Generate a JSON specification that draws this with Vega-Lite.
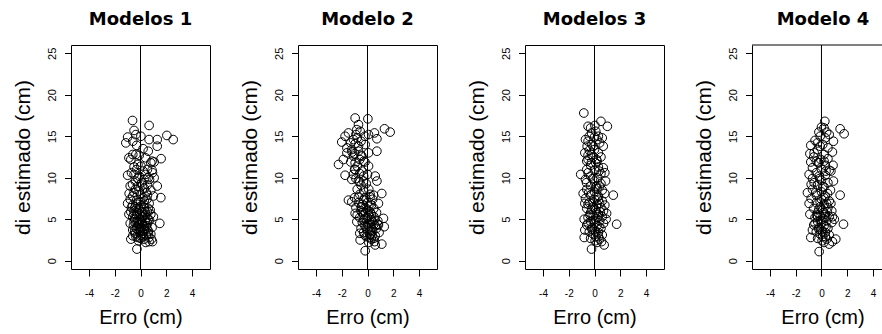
{
"$schema": "https://vega.github.io/schema/vega-lite/v6.json",
"background": "white",
"padding": {"left": 11, "top": 10, "right": 0, "bottom": 0},
"autosize": {"type": "pad"},
"bounds": "flush",
"spacing": 88,
"datasets": {
"m1": [
{"erro":-0.62,"di":16.9},{"erro":0.67,"di":16.3},{"erro":-0.5,"di":15.7},{"erro":-0.36,"di":15.2},{"erro":-1.0,"di":14.9},{"erro":0.03,"di":15.0},{"erro":2.05,"di":15.1},{"erro":2.54,"di":14.6},{"erro":0.67,"di":14.6},{"erro":1.3,"di":14.6},{"erro":-1.14,"di":14.2},{"erro":-0.6,"di":14.4},{"erro":1.3,"di":13.8},{"erro":0.6,"di":13.2},{"erro":-0.6,"di":12.8},{"erro":-0.36,"di":12.8},{"erro":-0.75,"di":12.2},{"erro":1.6,"di":12.3},{"erro":0.8,"di":11.8},{"erro":1.06,"di":11.9},{"erro":-0.2,"di":11.6},{"erro":0.03,"di":11.4},{"erro":0.54,"di":11.0},{"erro":0.93,"di":10.6},{"erro":-1.0,"di":10.3},{"erro":-0.5,"di":10.4},{"erro":1.06,"di":10.0},{"erro":0.28,"di":9.8},{"erro":-0.62,"di":9.2},{"erro":-0.23,"di":8.95},{"erro":0.54,"di":9.15},{"erro":1.3,"di":9.0},{"erro":-0.88,"di":8.1},{"erro":-0.5,"di":8.2},{"erro":0.54,"di":7.9},{"erro":1.58,"di":7.6},{"erro":-1.0,"di":6.9},{"erro":-0.62,"di":6.7},{"erro":0.0,"di":7.1},{"erro":0.67,"di":6.9},{"erro":-0.75,"di":5.9},{"erro":-0.23,"di":5.7},{"erro":0.54,"di":5.9},{"erro":1.5,"di":4.5},{"erro":-0.5,"di":4.7},{"erro":0.0,"di":4.9},{"erro":-0.6,"di":3.7},{"erro":-0.75,"di":2.6},{"erro":-0.28,"di":1.4},{"erro":0.41,"di":2.2},{"erro":0.67,"di":2.3},{"erro":0.93,"di":2.3},{"erro":0.0,"di":2.7},
{"erro":-0.3,"di":11.0},{"erro":0.2,"di":10.8},{"erro":-0.1,"di":10.2},{"erro":0.4,"di":10.4},{"erro":-0.4,"di":9.6},{"erro":0.1,"di":9.4},{"erro":0.7,"di":9.8},{"erro":-0.8,"di":9.0},{"erro":0.3,"di":8.7},{"erro":-0.1,"di":8.4},{"erro":0.8,"di":8.5},{"erro":-0.6,"di":7.8},{"erro":0.2,"di":7.6},{"erro":-0.3,"di":7.3},{"erro":0.5,"di":7.4},{"erro":-0.8,"di":7.4},{"erro":1.0,"di":7.8},{"erro":0.9,"di":10.9},{"erro":-0.5,"di":11.3},{"erro":0.4,"di":12.4},{"erro":-0.1,"di":12.7},{"erro":0.2,"di":13.5},{"erro":-0.3,"di":13.9},{"erro":0.9,"di":12.0},{"erro":-0.9,"di":12.4},{"erro":0.6,"di":10.0},{"erro":-0.7,"di":10.6},
{"erro":-0.4,"di":6.5},{"erro":0.3,"di":6.4},{"erro":-0.1,"di":6.2},{"erro":0.6,"di":6.3},{"erro":-0.5,"di":6.0},{"erro":0.1,"di":5.9},{"erro":0.8,"di":5.6},{"erro":-0.3,"di":5.5},{"erro":0.2,"di":5.3},{"erro":0.5,"di":5.2},{"erro":-0.6,"di":5.3},{"erro":-0.1,"di":5.0},{"erro":0.35,"di":4.8},{"erro":0.7,"di":4.9},{"erro":-0.35,"di":4.6},{"erro":0.15,"di":4.5},{"erro":-0.15,"di":4.3},{"erro":0.45,"di":4.2},{"erro":-0.55,"di":4.2},{"erro":0.05,"di":4.0},{"erro":0.3,"di":3.8},{"erro":-0.3,"di":3.9},{"erro":0.6,"di":3.6},{"erro":-0.1,"di":3.5},{"erro":0.2,"di":3.3},{"erro":-0.4,"di":3.3},{"erro":0.45,"di":3.1},{"erro":0.0,"di":3.0},{"erro":-0.2,"di":2.8},{"erro":0.3,"di":2.6},{"erro":0.9,"di":4.0},{"erro":0.8,"di":3.2},{"erro":-0.8,"di":4.5},{"erro":-0.9,"di":5.6},{"erro":1.0,"di":5.3},{"erro":0.25,"di":6.8},{"erro":-0.2,"di":7.0},{"erro":0.1,"di":4.7},{"erro":-0.05,"di":5.6},{"erro":0.4,"di":5.6},{"erro":-0.45,"di":5.0},{"erro":0.55,"di":4.5},{"erro":0.0,"di":3.7},{"erro":-0.25,"di":4.1},{"erro":0.15,"di":3.6},{"erro":-0.6,"di":3.0},{"erro":0.65,"di":2.8},
{"erro":-0.2,"di":4.8},{"erro":0.25,"di":4.1},{"erro":-0.45,"di":3.6},{"erro":0.5,"di":3.9},{"erro":0.1,"di":3.1},{"erro":-0.15,"di":2.4},{"erro":0.35,"di":5.9},{"erro":-0.3,"di":6.3},{"erro":0.75,"di":6.1},{"erro":-0.7,"di":6.4},{"erro":0.05,"di":6.6},{"erro":0.2,"di":2.9},{"erro":-0.05,"di":4.4},{"erro":0.6,"di":5.0},{"erro":-0.5,"di":5.6},{"erro":0.3,"di":7.2},{"erro":-0.4,"di":8.6},{"erro":0.15,"di":9.1},{"erro":0.45,"di":8.2},{"erro":-0.2,"di":9.9},{"erro":0.0,"di":8.0},{"erro":0.6,"di":3.3},{"erro":-0.1,"di":3.9},{"erro":0.4,"di":4.6},{"erro":-0.35,"di":2.9},{"erro":0.85,"di":2.6},{"erro":0.1,"di":5.3},{"erro":-0.25,"di":6.8}
],
"m2": [
{"erro":-0.96,"di":17.2},{"erro":0.03,"di":17.1},{"erro":-0.7,"di":16.4},{"erro":-0.83,"di":15.8},{"erro":-0.57,"di":15.6},{"erro":-1.48,"di":15.4},{"erro":0.08,"di":15.2},{"erro":0.54,"di":15.4},{"erro":1.32,"di":15.9},{"erro":1.76,"di":15.5},{"erro":-1.74,"di":15.0},{"erro":-1.09,"di":14.6},{"erro":0.73,"di":14.7},{"erro":-2.0,"di":14.3},{"erro":-0.96,"di":14.1},{"erro":-0.18,"di":14.0},{"erro":-1.6,"di":13.6},{"erro":-1.22,"di":13.4},{"erro":-0.7,"di":13.2},{"erro":0.73,"di":13.2},{"erro":0.08,"di":13.0},{"erro":-1.6,"di":13.0},{"erro":-1.09,"di":12.6},{"erro":-0.44,"di":12.6},{"erro":-1.87,"di":12.2},{"erro":-2.25,"di":11.6},{"erro":-0.96,"di":11.8},{"erro":0.08,"di":11.4},{"erro":-0.96,"di":11.0},{"erro":-0.44,"di":10.8},{"erro":-1.74,"di":10.3},{"erro":0.6,"di":10.2},{"erro":0.73,"di":9.6},{"erro":-1.22,"di":9.8},{"erro":-0.7,"di":9.6},{"erro":-0.31,"di":9.6},{"erro":-1.48,"di":7.3},{"erro":-1.22,"di":7.1},{"erro":1.11,"di":8.1},{"erro":0.47,"di":7.9},{"erro":0.85,"di":6.9},{"erro":-0.7,"di":7.7},{"erro":-0.44,"di":6.5},{"erro":-0.96,"di":5.7},{"erro":-0.83,"di":4.7},{"erro":1.24,"di":5.1},{"erro":1.3,"di":4.1},{"erro":0.85,"di":4.3},{"erro":-0.57,"di":2.5},{"erro":-0.18,"di":1.2},{"erro":0.6,"di":1.9},{"erro":1.11,"di":2.0},{"erro":0.2,"di":3.1},
{"erro":-0.8,"di":14.8},{"erro":-0.5,"di":14.4},{"erro":-1.3,"di":14.2},{"erro":-0.2,"di":15.0},{"erro":-0.7,"di":13.8},{"erro":-1.0,"di":12.9},{"erro":-0.6,"di":12.2},{"erro":-0.3,"di":12.0},{"erro":-1.3,"di":11.9},{"erro":-0.8,"di":11.4},{"erro":-0.2,"di":11.9},{"erro":-0.6,"di":10.5},{"erro":-1.1,"di":10.4},{"erro":-0.3,"di":10.2},{"erro":0.0,"di":10.4},{"erro":-0.9,"di":9.9},{"erro":-0.5,"di":9.1},{"erro":-0.1,"di":9.3},{"erro":-0.8,"di":8.6},{"erro":-0.3,"di":8.4},{"erro":0.1,"di":8.6},{"erro":-0.6,"di":8.0},{"erro":0.2,"di":8.0},{"erro":-1.0,"di":7.6},{"erro":-0.2,"di":7.6},{"erro":0.4,"di":7.4},{"erro":-0.7,"di":7.0},{"erro":0.0,"di":7.0},{"erro":-0.4,"di":6.8},{"erro":0.3,"di":6.7},{"erro":-0.9,"di":6.4},{"erro":-0.1,"di":6.3},{"erro":0.5,"di":6.3},{"erro":-0.5,"di":6.0},{"erro":0.2,"di":5.9},{"erro":0.7,"di":5.8},{"erro":-0.3,"di":5.5},{"erro":0.1,"di":5.4},{"erro":0.5,"di":5.3},{"erro":-0.6,"di":5.2},{"erro":-0.1,"di":5.0},{"erro":0.3,"di":4.9},{"erro":0.8,"di":4.8},{"erro":-0.4,"di":4.6},{"erro":0.1,"di":4.5},{"erro":0.5,"di":4.4},{"erro":-0.2,"di":4.2},{"erro":0.3,"di":4.0},{"erro":0.7,"di":3.9},{"erro":-0.5,"di":3.9},{"erro":0.0,"di":3.7},{"erro":0.4,"di":3.5},{"erro":-0.3,"di":3.4},{"erro":0.2,"di":3.2},{"erro":0.6,"di":3.0},{"erro":-0.1,"di":2.9},{"erro":0.3,"di":2.6},{"erro":-0.6,"di":3.3},{"erro":0.9,"di":3.4},{"erro":0.55,"di":2.3},{"erro":0.1,"di":2.2},{"erro":-0.4,"di":5.8},{"erro":0.0,"di":6.1},{"erro":-0.8,"di":5.5},
{"erro":0.2,"di":3.6},{"erro":-0.1,"di":4.1},{"erro":0.4,"di":4.7},{"erro":0.0,"di":5.2},{"erro":0.6,"di":4.2},{"erro":-0.3,"di":4.9},{"erro":0.3,"di":5.6},{"erro":0.15,"di":2.8},{"erro":-0.2,"di":3.1},{"erro":0.5,"di":2.7},{"erro":0.8,"di":4.4},{"erro":-0.5,"di":6.5},{"erro":0.1,"di":6.6},{"erro":-0.3,"di":7.3},{"erro":0.2,"di":7.7},{"erro":-0.6,"di":9.5},{"erro":-1.0,"di":11.0},{"erro":-0.5,"di":12.7},{"erro":-1.2,"di":13.1},{"erro":-0.9,"di":15.2},{"erro":0.0,"di":4.4},{"erro":0.35,"di":3.0},{"erro":-0.15,"di":5.8},{"erro":0.55,"di":5.0}
],
"m3": [
{"erro":-0.83,"di":17.8},{"erro":0.5,"di":16.8},{"erro":1.0,"di":16.2},{"erro":-0.5,"di":16.2},{"erro":0.03,"di":16.3},{"erro":-0.23,"di":15.4},{"erro":0.3,"di":15.0},{"erro":-0.5,"di":14.4},{"erro":0.68,"di":13.8},{"erro":-0.57,"di":13.8},{"erro":-0.75,"di":13.0},{"erro":-0.23,"di":12.8},{"erro":-0.5,"di":12.2},{"erro":0.16,"di":12.2},{"erro":0.68,"di":11.2},{"erro":0.8,"di":10.6},{"erro":-1.07,"di":10.4},{"erro":-0.5,"di":10.6},{"erro":0.86,"di":9.6},{"erro":-0.62,"di":9.4},{"erro":0.16,"di":9.0},{"erro":1.46,"di":7.9},{"erro":-0.88,"di":8.1},{"erro":0.8,"di":8.1},{"erro":-0.75,"di":6.9},{"erro":0.3,"di":7.3},{"erro":0.94,"di":5.7},{"erro":1.72,"di":4.4},{"erro":-0.75,"di":3.7},{"erro":-0.8,"di":2.8},{"erro":-0.23,"di":1.4},{"erro":0.55,"di":2.3},{"erro":0.75,"di":1.9},
{"erro":0.1,"di":15.6},{"erro":-0.4,"di":15.0},{"erro":0.2,"di":14.6},{"erro":-0.2,"di":14.0},{"erro":0.4,"di":14.2},{"erro":0.0,"di":13.4},{"erro":-0.4,"di":13.3},{"erro":0.3,"di":13.0},{"erro":-0.1,"di":12.5},{"erro":0.5,"di":12.5},{"erro":-0.6,"di":12.0},{"erro":0.1,"di":11.8},{"erro":-0.3,"di":11.5},{"erro":0.3,"di":11.3},{"erro":-0.6,"di":11.0},{"erro":0.0,"di":10.9},{"erro":0.5,"di":10.5},{"erro":-0.3,"di":10.2},{"erro":0.2,"di":10.0},{"erro":-0.7,"di":9.8},{"erro":0.0,"di":9.6},{"erro":0.5,"di":9.3},{"erro":-0.3,"di":9.0},{"erro":0.2,"di":8.7},{"erro":-0.6,"di":8.6},{"erro":0.6,"di":8.5},{"erro":0.0,"di":8.3},{"erro":-0.3,"di":7.9},{"erro":0.3,"di":7.8},{"erro":-0.7,"di":7.5},{"erro":0.0,"di":7.4},{"erro":0.6,"di":7.2},{"erro":-0.4,"di":7.0},{"erro":0.2,"di":6.8},{"erro":-0.1,"di":6.5},{"erro":0.5,"di":6.4},{"erro":-0.6,"di":6.3},{"erro":0.1,"di":6.1},{"erro":0.7,"di":6.0},{"erro":-0.3,"di":5.8},{"erro":0.3,"di":5.6},{"erro":-0.1,"di":5.4},{"erro":0.6,"di":5.3},{"erro":-0.5,"di":5.2},{"erro":0.1,"di":5.0},{"erro":0.4,"di":4.8},{"erro":-0.3,"di":4.7},{"erro":0.0,"di":4.5},{"erro":0.7,"di":4.5},{"erro":-0.6,"di":4.3},{"erro":0.2,"di":4.2},{"erro":-0.2,"di":4.0},{"erro":0.5,"di":3.9},{"erro":0.0,"di":3.7},{"erro":-0.4,"di":3.5},{"erro":0.3,"di":3.4},{"erro":-0.1,"di":3.2},{"erro":0.6,"di":3.1},{"erro":0.1,"di":2.9},{"erro":-0.3,"di":2.7},{"erro":0.4,"di":2.6},{"erro":0.2,"di":2.2},{"erro":-0.5,"di":6.8},{"erro":0.8,"di":6.7},{"erro":-0.8,"di":5.0},{"erro":0.9,"di":5.0},{"erro":0.4,"di":9.0},{"erro":-0.5,"di":12.7},{"erro":0.6,"di":14.8},{"erro":-0.7,"di":14.6},
{"erro":0.1,"di":3.5},{"erro":-0.2,"di":3.8},{"erro":0.35,"di":4.1},{"erro":-0.05,"di":4.9},{"erro":0.25,"di":5.3},{"erro":-0.35,"di":5.5},{"erro":0.15,"di":5.8},{"erro":-0.2,"di":6.2},{"erro":0.4,"di":6.9},{"erro":-0.1,"di":7.1},{"erro":0.2,"di":7.6},{"erro":-0.45,"di":8.2},{"erro":0.1,"di":8.9},{"erro":-0.15,"di":9.9},{"erro":0.35,"di":10.8},{"erro":-0.25,"di":11.8},{"erro":0.2,"di":12.0},{"erro":-0.1,"di":13.8},{"erro":0.0,"di":14.9},{"erro":-0.3,"di":16.0},{"erro":0.45,"di":5.9},{"erro":-0.5,"di":4.5},{"erro":0.05,"di":2.4},{"erro":0.3,"di":2.9}
],
"m4": [
{"erro":0.26,"di":16.8},{"erro":0.0,"di":16.1},{"erro":1.45,"di":15.9},{"erro":1.76,"di":15.3},{"erro":0.6,"di":15.2},{"erro":-0.1,"di":15.0},{"erro":0.93,"di":14.4},{"erro":-0.83,"di":13.9},{"erro":-0.31,"di":14.2},{"erro":0.85,"di":13.1},{"erro":-0.57,"di":13.0},{"erro":-0.83,"di":11.9},{"erro":-0.05,"di":12.2},{"erro":0.73,"di":10.8},{"erro":-0.96,"di":10.4},{"erro":-0.18,"di":10.2},{"erro":0.93,"di":9.6},{"erro":-0.57,"di":9.4},{"erro":-1.09,"di":8.2},{"erro":1.45,"di":7.9},{"erro":0.47,"di":8.1},{"erro":-0.96,"di":6.9},{"erro":0.73,"di":6.9},{"erro":0.85,"di":5.3},{"erro":1.71,"di":4.4},{"erro":-0.31,"di":5.3},{"erro":-0.7,"di":3.7},{"erro":-0.83,"di":2.8},{"erro":-0.18,"di":1.1},{"erro":0.6,"di":2.0},{"erro":0.85,"di":2.3},{"erro":1.11,"di":2.6},
{"erro":0.2,"di":16.0},{"erro":-0.2,"di":15.5},{"erro":0.3,"di":14.8},{"erro":-0.5,"di":14.5},{"erro":0.1,"di":14.0},{"erro":0.5,"di":13.6},{"erro":-0.3,"di":13.4},{"erro":0.2,"di":12.8},{"erro":-0.6,"di":12.5},{"erro":0.5,"di":12.3},{"erro":-0.2,"di":11.8},{"erro":0.3,"di":11.5},{"erro":-0.7,"di":11.2},{"erro":0.0,"di":11.0},{"erro":0.6,"di":10.9},{"erro":-0.4,"di":10.6},{"erro":0.3,"di":10.3},{"erro":-0.7,"di":9.9},{"erro":0.0,"di":9.7},{"erro":0.5,"di":9.4},{"erro":-0.3,"di":9.1},{"erro":0.2,"di":8.9},{"erro":-0.7,"di":8.6},{"erro":0.7,"di":8.5},{"erro":0.0,"di":8.3},{"erro":-0.4,"di":7.9},{"erro":0.3,"di":7.8},{"erro":-0.8,"di":7.5},{"erro":0.0,"di":7.4},{"erro":0.6,"di":7.2},{"erro":-0.4,"di":7.0},{"erro":0.2,"di":6.8},{"erro":-0.1,"di":6.5},{"erro":0.5,"di":6.4},{"erro":-0.6,"di":6.3},{"erro":0.1,"di":6.1},{"erro":0.8,"di":6.0},{"erro":-0.3,"di":5.8},{"erro":0.3,"di":5.6},{"erro":-0.1,"di":5.4},{"erro":0.6,"di":5.3},{"erro":-0.5,"di":5.2},{"erro":0.1,"di":5.0},{"erro":0.4,"di":4.8},{"erro":-0.3,"di":4.7},{"erro":0.0,"di":4.5},{"erro":0.8,"di":4.6},{"erro":-0.6,"di":4.3},{"erro":0.2,"di":4.2},{"erro":-0.2,"di":4.0},{"erro":0.5,"di":3.9},{"erro":0.0,"di":3.7},{"erro":-0.4,"di":3.5},{"erro":0.3,"di":3.4},{"erro":-0.1,"di":3.2},{"erro":0.6,"di":3.1},{"erro":0.1,"di":2.9},{"erro":-0.3,"di":2.7},{"erro":0.4,"di":2.6},{"erro":0.2,"di":2.2},{"erro":-0.9,"di":5.6},{"erro":1.0,"di":5.0},{"erro":-0.8,"di":9.2},{"erro":0.9,"di":11.5},{"erro":-0.9,"di":12.9},
{"erro":0.1,"di":3.5},{"erro":-0.2,"di":3.8},{"erro":0.35,"di":4.1},{"erro":-0.05,"di":4.9},{"erro":0.25,"di":5.3},{"erro":-0.35,"di":5.5},{"erro":0.15,"di":5.8},{"erro":-0.2,"di":6.2},{"erro":0.4,"di":6.9},{"erro":-0.1,"di":7.1},{"erro":0.2,"di":7.6},{"erro":-0.45,"di":8.2},{"erro":0.1,"di":8.9},{"erro":-0.15,"di":9.9},{"erro":0.35,"di":10.8},{"erro":-0.25,"di":11.8},{"erro":0.2,"di":12.0},{"erro":-0.1,"di":13.8},{"erro":0.4,"di":15.5},{"erro":-0.4,"di":12.0},{"erro":0.45,"di":5.9},{"erro":-0.5,"di":4.5},{"erro":0.05,"di":2.4},{"erro":0.3,"di":2.9}
]
},
"hconcat": [
{
"width": 139, "height": 224,
"title": {"text": "Modelos 1"},
"layer": [
{"data": {"name": "m1"},
 "mark": {"type": "point", "shape": "circle", "filled": false, "color": "black", "size": 75, "strokeWidth": 1, "opacity": 1},
 "encoding": {
  "x": {"field": "erro", "type": "quantitative", "scale": {"domain": [-5.4, 5.4], "nice": false, "zero": false},
        "axis": {"values": [-4, -2, 0, 2, 4], "tickCount": 10, "title": "Erro (cm)"}},
  "y": {"field": "di", "type": "quantitative", "scale": {"domain": [-1, 26], "nice": false, "zero": false},
        "axis": {"values": [0, 5, 10, 15, 20, 25], "tickCount": 10, "title": "di estimado (cm)"}}
 }},
{"data": {"values": [{}]}, "mark": {"type": "rule", "color": "black", "strokeWidth": 1}, "encoding": {"x": {"datum": 0}}}
]
},
{
"width": 139, "height": 224,
"title": {"text": "Modelo 2"},
"layer": [
{"data": {"name": "m2"},
 "mark": {"type": "point", "shape": "circle", "filled": false, "color": "black", "size": 75, "strokeWidth": 1, "opacity": 1},
 "encoding": {
  "x": {"field": "erro", "type": "quantitative", "scale": {"domain": [-5.4, 5.4], "nice": false, "zero": false},
        "axis": {"values": [-4, -2, 0, 2, 4], "tickCount": 10, "title": "Erro (cm)"}},
  "y": {"field": "di", "type": "quantitative", "scale": {"domain": [-1, 26], "nice": false, "zero": false},
        "axis": {"values": [0, 5, 10, 15, 20, 25], "tickCount": 10, "title": "di estimado (cm)"}}
 }},
{"data": {"values": [{}]}, "mark": {"type": "rule", "color": "black", "strokeWidth": 1}, "encoding": {"x": {"datum": 0}}}
]
},
{
"width": 139, "height": 224,
"title": {"text": "Modelos 3"},
"layer": [
{"data": {"name": "m3"},
 "mark": {"type": "point", "shape": "circle", "filled": false, "color": "black", "size": 75, "strokeWidth": 1, "opacity": 1},
 "encoding": {
  "x": {"field": "erro", "type": "quantitative", "scale": {"domain": [-5.4, 5.4], "nice": false, "zero": false},
        "axis": {"values": [-4, -2, 0, 2, 4], "tickCount": 10, "title": "Erro (cm)"}},
  "y": {"field": "di", "type": "quantitative", "scale": {"domain": [-1, 26], "nice": false, "zero": false},
        "axis": {"values": [0, 5, 10, 15, 20, 25], "tickCount": 10, "title": "di estimado (cm)"}}
 }},
{"data": {"values": [{}]}, "mark": {"type": "rule", "color": "black", "strokeWidth": 1}, "encoding": {"x": {"datum": 0}}}
]
},
{
"width": 132, "height": 224,
"view": {"stroke": null},
"title": {"text": "Modelo 4", "dx": 5},
"layer": [
{"data": {"name": "m4"},
 "mark": {"type": "point", "shape": "circle", "filled": false, "color": "black", "size": 75, "strokeWidth": 1, "opacity": 1},
 "encoding": {
  "x": {"field": "erro", "type": "quantitative", "scale": {"domain": [-5.4, 4.86], "nice": false, "zero": false},
        "axis": {"values": [-4, -2, 0, 2, 4], "tickCount": 10, "title": "Erro (cm)", "domain": true, "titleX": 70.5}},
  "y": {"field": "di", "type": "quantitative", "scale": {"domain": [-1, 26], "nice": false, "zero": false},
        "axis": {"values": [0, 5, 10, 15, 20, 25], "tickCount": 10, "title": "di estimado (cm)", "domain": true}}
 }},
{"data": {"values": [{}]}, "mark": {"type": "rule", "color": "black", "strokeWidth": 1}, "encoding": {"x": {"datum": 0}}},
{"data": {"values": [{}]}, "mark": {"type": "rule", "color": "black", "strokeWidth": 1}, "encoding": {"y": {"datum": 26}}}
]
}
],
"config": {
 "view": {"stroke": "black", "strokeWidth": 1},
 "axis": {"grid": false, "domain": false, "domainColor": "black", "domainWidth": 1, "tickColor": "black", "tickWidth": 1, "labelColor": "black", "labelFont": "Liberation Sans", "labelFontSize": 10, "labelOverlap": false, "labelSeparation": 0, "labelFlush": false, "labelExpr": "'' + datum.value", "titleFont": "Liberation Sans", "titleFontWeight": "normal", "titleColor": "black"},
 "axisX": {"tickSize": 7, "labelPadding": 12, "titleFontSize": 20, "titlePadding": 9},
 "axisY": {"tickSize": 6.5, "labelAngle": 270, "labelAlign": "center", "labelBaseline": "bottom", "labelPadding": 7.5, "labelFontSize": 11, "titleFontSize": 21, "titlePadding": 13},
 "title": {"font": "DejaVu Sans", "fontSize": 18, "fontWeight": "bold", "color": "black", "baseline": "alphabetic", "offset": 16, "anchor": "middle"}
}
}
